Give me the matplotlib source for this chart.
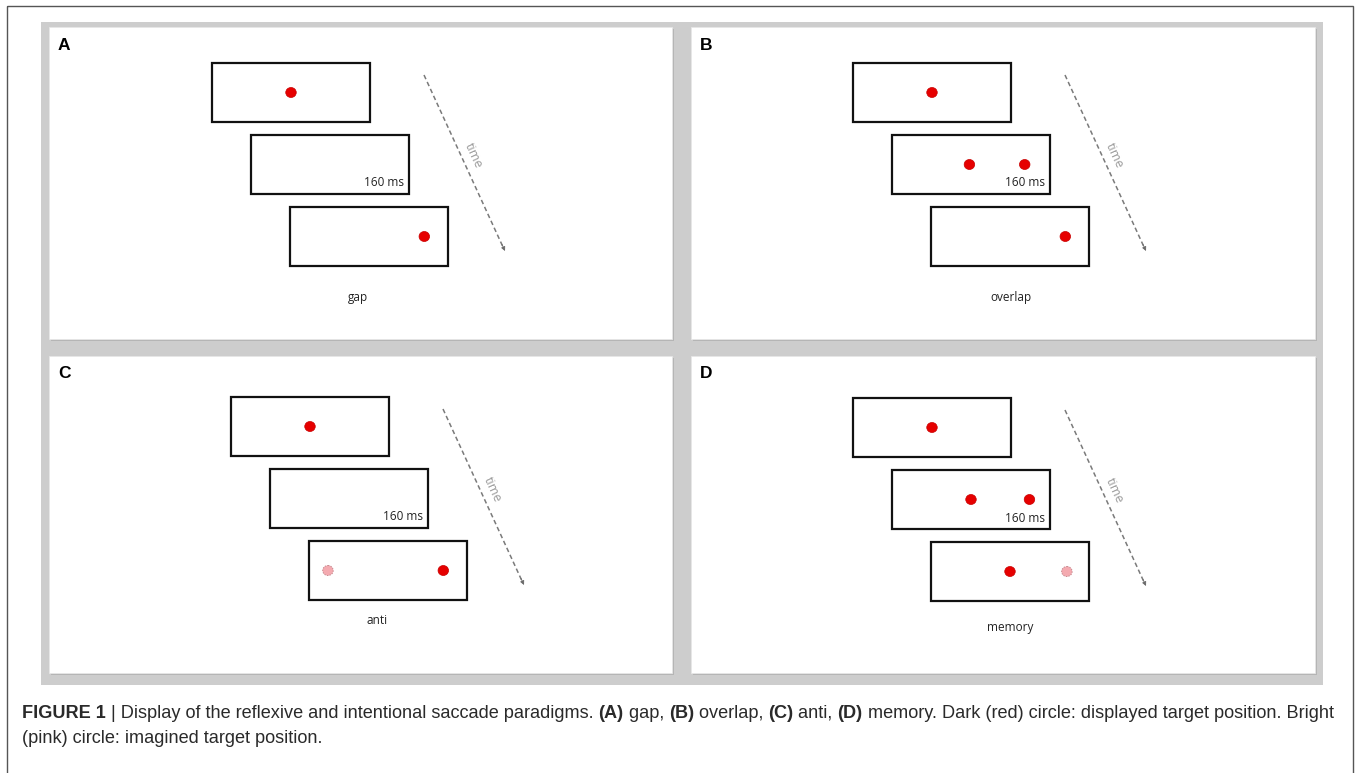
import matplotlib
matplotlib.use("Agg")
import matplotlib.pyplot as plt
from matplotlib.patches import Rectangle, Ellipse

W, H = 1358, 773

# conditions shown in the four panels
panel_letters = ["A", "B", "C", "D"]
conditions = ["gap", "overlap", "anti", "memory"]
gap_label = "160 ms"   # written in the second screen

# targets per condition: (screen index, horizontal position in screen 0..1, kind)
targets = {
    "gap":     [(0, 0.50, "shown"), (2, 0.85, "shown")],
    "overlap": [(0, 0.50, "shown"), (1, 0.49, "shown"), (1, 0.84, "shown"), (2, 0.85, "shown")],
    "anti":    [(0, 0.50, "shown"), (2, 0.12, "imagined"), (2, 0.85, "shown")],
    "memory":  [(0, 0.50, "shown"), (1, 0.50, "shown"), (1, 0.87, "shown"),
                (2, 0.50, "shown"), (2, 0.86, "imagined")],
}

caption_line1 = [
    ("FIGURE 1", True), (" | Display of the reflexive and intentional saccade paradigms. ", False),
    ("(A)", True), (" gap, ", False), ("(B)", True), (" overlap, ", False),
    ("(C)", True), (" anti, ", False), ("(D)", True),
    (" memory. Dark (red) circle: displayed target position. Bright", False),
]
caption_line2 = [("(pink) circle: imagined target position.", False)]

# layout (pixels, y downwards)
panel_rects = [(49, 27, 623, 312), (691, 27, 624, 312), (49, 356, 623, 317), (691, 356, 624, 317)]
stim_origin = [(212, 63), (853, 63), (231, 397), (853, 398)]
label_pos = [(146, 234), (158, 234), (146, 224), (157, 229)]
box_w, box_h = 158, 59
box_step = (39, 72)

fig = plt.figure(figsize=(W / 100, H / 100), dpi=100)
ax = fig.add_axes([0, 0, 1, 1])
ax.set_xlim(0, W)
ax.set_ylim(H, 0)
ax.axis("off")

# outer frame and grey background
ax.add_patch(Rectangle((7, 6), 1346, 800, fill=False, ec="#555555", lw=1.0))
ax.add_patch(Rectangle((41, 22), 1282, 663, fc="#cdcdcd", ec="none"))

for i, (letter, cond) in enumerate(zip(panel_letters, conditions)):
    px, py, pw, ph = panel_rects[i]
    # soft shadow + panel
    ax.add_patch(Rectangle((px + 1.5, py + 1.5), pw, ph, fc="#b5b5b5", ec="none"))
    ax.add_patch(Rectangle((px, py), pw, ph, fc="white", ec="#e6e6e6", lw=0.6))
    ax.text(px + 9, py + 18, letter, fontsize=12.5, fontweight="bold",
            family="Liberation Sans", ha="left", va="center", color="black")

    ox, oy = stim_origin[i]
    for k in range(3):
        bx = ox + k * box_step[0]
        by = oy + k * box_step[1]
        ax.add_patch(Rectangle((bx, by), box_w, box_h, fill=False, ec="#111111", lw=1.6))
        if k == 1:
            ax.text(bx + box_w - 5, by + box_h - 11, gap_label, fontsize=8.5,
                    family="Open Sans", ha="right", va="center", color="#222222")

    for k, pos, kind in targets[cond]:
        cx = ox + k * box_step[0] + pos * box_w
        cy = oy + k * box_step[1] + box_h / 2
        if kind == "shown":
            ax.add_patch(Ellipse((cx, cy), 10.5, 10, fc="#e60000", ec="#c80000", lw=0.5))
        else:
            ax.add_patch(Ellipse((cx, cy), 10.5, 10, fc="#f4aab0", ec="#c88a90",
                                 lw=0.7, ls=(0, (1.5, 1.2))))

    # time arrow
    x0, y0 = ox + 212, oy + 12
    x1, y1 = ox + 293, oy + 188
    ax.plot([x0, x1 - 2], [y0, y1 - 4], color="#7a7a7a", lw=1.1, dashes=(3, 2))
    ax.annotate("", xy=(x1, y1), xytext=(x1 - 3, y1 - 6.5),
                arrowprops=dict(arrowstyle="-|>", color="#6a6a6a", lw=0.6,
                                mutation_scale=6, shrinkA=0, shrinkB=0))
    tx = x0 + 0.46 * (x1 - x0) + 12
    ty = y0 + 0.46 * (y1 - y0)
    ax.text(tx, ty, "time", fontsize=9, family="Open Sans", color="#9a9a9a",
            rotation=-65.4, rotation_mode="anchor", ha="center", va="center")

    lx, ly = label_pos[i]
    ax.text(ox + lx, oy + ly, cond, fontsize=8.5, family="Open Sans",
            ha="center", va="center", color="#222222")

# caption with bold runs, scaled to the reference line width
renderer = fig.canvas.get_renderer()
inv = ax.transData.inverted()


def draw_runs(runs, x, y, size):
    for txt, bold in runs:
        t = ax.text(x, y, txt, fontsize=size, family="Liberation Sans",
                    fontweight="bold" if bold else "normal",
                    ha="left", va="baseline", color="#2a2a2a")
        bb = t.get_window_extent(renderer)
        x = inv.transform((bb.x1, bb.y0))[0]
    return x


probe = draw_runs(caption_line1, 22, -100, 10)
size = 10 * (1335 - 22) / (probe - 22)
for t in list(ax.texts):
    if t.get_position()[1] == -100:
        t.remove()

draw_runs(caption_line1, 22, 718, size)
draw_runs(caption_line2, 22, 743, size)

fig.savefig("out.png", dpi=100)
